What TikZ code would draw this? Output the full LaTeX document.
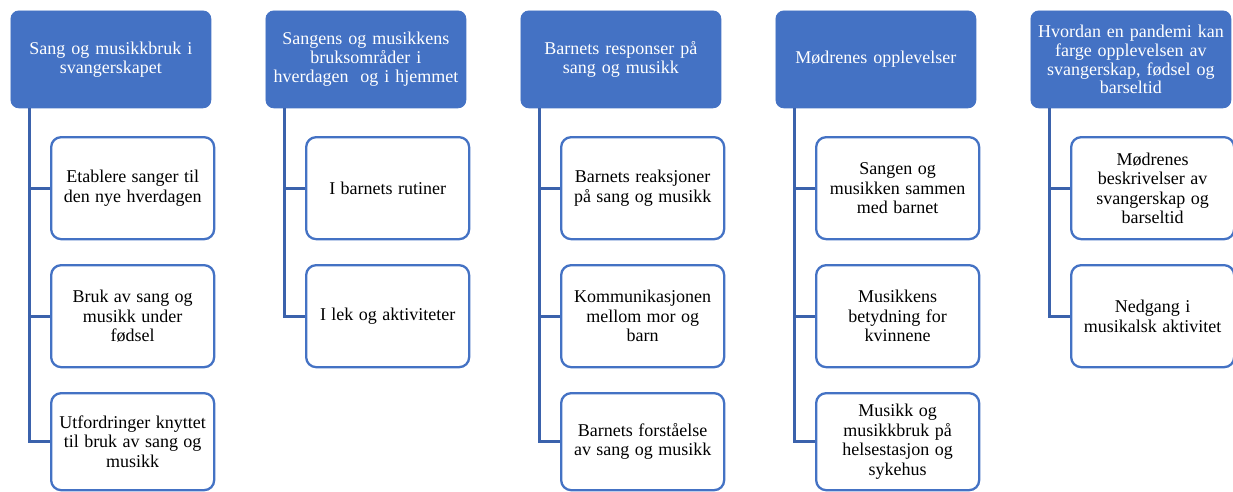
\documentclass[tikz,border=0pt]{standalone}
\usepackage{fontspec}
\setmainfont{Liberation Serif}
\usetikzlibrary{calc}
\definecolor{hdrblue}{HTML}{4472C4}
\definecolor{connblue}{HTML}{3B62AC}
\newcommand\myhdrfont{\fontsize{18}{18.9}\selectfont\spaceskip=0.33em plus 0.1em minus 0.05em\relax}
\newcommand\mykidfont{\fontsize{18}{19.5}\selectfont\spaceskip=0.3em plus 0.1em minus 0.05em\relax}
\begin{document}
\begin{tikzpicture}[x=1pt,y=-1pt,
  hdrbox/.style={draw=hdrblue, fill=hdrblue, line width=0.8pt, rounded corners=8pt,
    minimum width=200pt, minimum height=97pt, anchor=north west, inner sep=2pt,
    text=white, align=center, font=\myhdrfont},
  kidbox/.style={draw=hdrblue, fill=white, line width=2.3pt, rounded corners=10pt,
    minimum width=163pt, minimum height=102pt, anchor=north west, inner sep=2pt,
    text=black, align=center, font=\mykidfont},
  lastkid/.style={kidbox, minimum height=97pt},
  connline/.style={draw=connblue, line width=3pt}]
\useasboundingbox (0,0) rectangle (1233,491);

% Column 1
\node[hdrbox] (h1) at (10.5,10.5) {Sang og musikkbruk i\\svangerskapet};
\node[kidbox] (c11) at (50,136) {Etablere sanger til\\den nye hverdagen};
\node[kidbox] (c12) at (50,264) {Bruk av sang og\\musikk under\\fødsel};
\node[lastkid] (c13) at (50,392) {Utfordringer knyttet\\til bruk av sang og\\musikk};

% Column 2
\node[hdrbox] (h2) at (265.5,10.5) {Sangens og musikkens\\bruksområder i\\hverdagen\ \ og i hjemmet};
\node[kidbox] (c21) at (305,136) {I barnets rutiner};
\node[kidbox] (c22) at (305,264) {I lek og aktiviteter};

% Column 3
\node[hdrbox] (h3) at (520.5,10.5) {Barnets responser på\\sang og musikk};
\node[kidbox] (c31) at (560,136) {Barnets reaksjoner\\på sang og musikk};
\node[kidbox] (c32) at (560,264) {Kommunikasjonen\\mellom mor og\\barn};
\node[lastkid] (c33) at (560,392) {Barnets forståelse\\av sang og musikk};

% Column 4
\node[hdrbox] (h4) at (775.5,10.5) {Mødrenes opplevelser};
\node[kidbox] (c41) at (815,136) {Sangen og\\musikken sammen\\med barnet};
\node[kidbox] (c42) at (815,264) {Musikkens\\betydning for\\kvinnene};
\node[lastkid] (c43) at (815,392) {Musikk og\\musikkbruk på\\helsestasjon og\\sykehus};

% Column 5
\node[hdrbox] (h5) at (1030.5,10.5) {Hvordan en pandemi kan\\farge opplevelsen av\\svangerskap, fødsel og\\barseltid};
\node[kidbox] (c51) at (1070,136) {Mødrenes\\beskrivelser av\\svangerskap og\\barseltid};
\node[kidbox] (c52) at (1070,264) {Nedgang i\\musikalsk aktivitet};

% Connectors
\foreach \h/\last/\kids in {1/13/{11,12}, 2/22/{21}, 3/33/{31,32}, 4/43/{41,42}, 5/52/{51}} {
  \coordinate (t\h) at ($(h\h.south west)+(19,0)$);
  \draw[connline] (t\h) |- (c\last.west);
  \foreach \k in \kids {
    \draw[connline] (t\h |- c\k.west) -- (c\k.west);
  }
}
\end{tikzpicture}
\end{document}
